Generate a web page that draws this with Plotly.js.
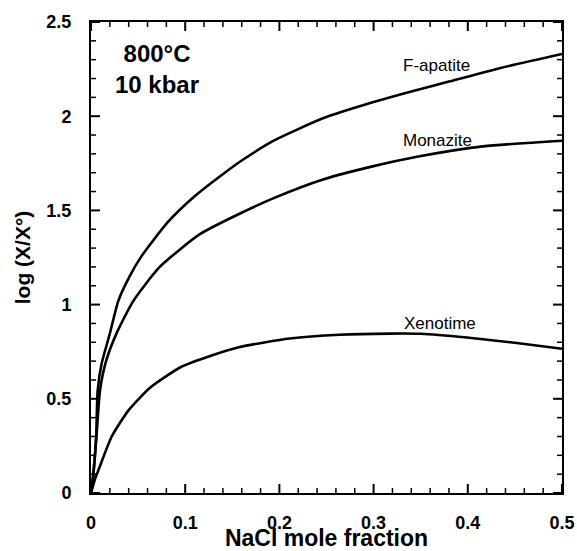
<!DOCTYPE html>
<html>
<head>
<meta charset="utf-8">
<script src="https://cdn.plot.ly/plotly-3.0.1.min.js"></script>
</head>
<body style="margin:0;background:#fff">
<div id="chart"></div>
<script>
const seriesNames = ["F-apatite", "Monazite", "Xenotime"];

const apatiteX = [0, 0.0025, 0.0055, 0.0071, 0.0113, 0.020, 0.029, 0.041, 0.054, 0.082, 0.110, 0.142, 0.160, 0.194, 0.247, 0.300, 0.339, 0.381, 0.434, 0.5];
const apatiteY = [0, 0.10, 0.30, 0.545, 0.687, 0.846, 1.02, 1.15, 1.26, 1.44, 1.575, 1.70, 1.765, 1.87, 1.99, 2.075, 2.13, 2.185, 2.255, 2.33];

const monaziteX = [0, 0.0025, 0.0058, 0.0096, 0.016, 0.027, 0.045, 0.073, 0.116, 0.163, 0.194, 0.247, 0.300, 0.346, 0.416, 0.5];
const monaziteY = [0, 0.10, 0.30, 0.545, 0.70, 0.846, 1.02, 1.20, 1.375, 1.495, 1.565, 1.665, 1.735, 1.785, 1.84, 1.87];

const xenotimeX = [0, 0.004, 0.0078, 0.022, 0.040, 0.063, 0.096, 0.128, 0.158, 0.211, 0.264, 0.317, 0.350, 0.399, 0.452, 0.5];
const xenotimeY = [0, 0.07, 0.12, 0.30, 0.44, 0.56, 0.67, 0.73, 0.775, 0.82, 0.84, 0.846, 0.845, 0.825, 0.796, 0.766];

const xMajorTicks = [0, 0.1, 0.2, 0.3, 0.4, 0.5];
const yMajorTicks = [0, 0.5, 1, 1.5, 2, 2.5];
const xMinorStep = 0.02;
const yMinorStep = 0.1;

const conditionText = ["800°C", "10 kbar"];

const FONT = "Liberation Sans, Arial, Helvetica, sans-serif";
function lineStyle() { return {color: "#000", width: 2.6, shape: "spline", smoothing: 0.6}; }

const traces = [
  {x: apatiteX, y: apatiteY, name: seriesNames[0], mode: "lines", line: lineStyle()},
  {x: monaziteX, y: monaziteY, name: seriesNames[1], mode: "lines", line: lineStyle()},
  {x: xenotimeX, y: xenotimeY, name: seriesNames[2], mode: "lines", line: lineStyle()}
];

// Tick marks drawn as pixel-sized shapes anchored on the axes' own scales
function isMajor(v, majors) { return majors.some(function (m) { return Math.abs(m - v) < 1e-9; }); }
function tickShapes() {
  const shapes = [];
  function xTick(v, len, w) {
    [[0, len], [1, -len]].forEach(function (p) {
      shapes.push({type: "line", xref: "x", yref: "paper", ysizemode: "pixel", yanchor: p[0],
        x0: v, x1: v, y0: 0, y1: p[1], line: {color: "#000", width: w}, layer: "above"});
    });
  }
  function yTick(v, len, w) {
    [[0, len], [1, -len]].forEach(function (p) {
      shapes.push({type: "line", yref: "y", xref: "paper", xsizemode: "pixel", xanchor: p[0],
        y0: v, y1: v, x0: 0, x1: p[1], line: {color: "#000", width: w}, layer: "above"});
    });
  }
  xMajorTicks.forEach(function (v) { xTick(v, 9, 2); });
  yMajorTicks.forEach(function (v) { yTick(v, 9, 2); });
  const xMax = xMajorTicks[xMajorTicks.length - 1], yMax = yMajorTicks[yMajorTicks.length - 1];
  for (let i = 1; i * xMinorStep < xMax - 1e-9; i++) {
    const v = +(i * xMinorStep).toFixed(4);
    if (!isMajor(v, xMajorTicks)) xTick(v, 5, 1.5);
  }
  for (let i = 1; i * yMinorStep < yMax - 1e-9; i++) {
    const v = +(i * yMinorStep).toFixed(4);
    if (!isMajor(v, yMajorTicks)) yTick(v, 5, 1.5);
  }
  return shapes;
}

function makeAxis(range, majors) {
  return {
    range: range, tickmode: "array", tickvals: majors,
    showline: true, linecolor: "#000", linewidth: 2, mirror: true,
    ticks: "", showgrid: false, zeroline: false,
    tickfont: {family: FONT, size: 18, color: "#000", weight: "bold"}
  };
}

const xa = makeAxis([0, 0.5], xMajorTicks);
const ya = makeAxis([0, 2.5], yMajorTicks);
xa.ticklabelstandoff = 12;
ya.ticklabelstandoff = 14;
xa.title = {text: "NaCl mole fraction", font: {family: FONT, size: 23, color: "#000", weight: "bold"}, standoff: 4};
ya.title = {text: "log (X/X°)", font: {family: FONT, size: 21, color: "#000", weight: "bold"}, standoff: 10};

const layout = {
  width: 577, height: 551,
  margin: {l: 91, r: 15, t: 22, b: 58},
  paper_bgcolor: "#fff", plot_bgcolor: "#fff",
  showlegend: false,
  font: {family: FONT, color: "#000"},
  xaxis: xa,
  yaxis: ya,
  shapes: tickShapes(),
  annotations: [
    {x: 0.070, y: 2.25, xref: "x", yref: "y", text: conditionText.join("<br>"), showarrow: false,
     font: {family: FONT, size: 24, color: "#000", weight: "bold"}, align: "center"},
    {x: 0.367, y: 2.27, xref: "x", yref: "y", text: seriesNames[0], showarrow: false,
     font: {family: FONT, size: 17, color: "#000"}},
    {x: 0.368, y: 1.87, xref: "x", yref: "y", text: seriesNames[1], showarrow: false,
     font: {family: FONT, size: 17, color: "#000"}},
    {x: 0.370, y: 0.90, xref: "x", yref: "y", text: seriesNames[2], showarrow: false,
     font: {family: FONT, size: 17, color: "#000"}}
  ]
};

Plotly.newPlot("chart", traces, layout, {displayModeBar: false});
</script>
</body>
</html>
